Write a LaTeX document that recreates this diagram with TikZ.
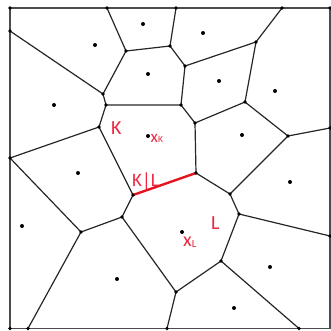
\documentclass[tikz,border=0pt]{standalone}
\usepackage{fontspec}
\setmainfont{Carlito}
\definecolor{lab}{RGB}{236,40,64}
\definecolor{edge}{RGB}{230,20,30}
\begin{document}
\begin{tikzpicture}[x=1pt,y=-1pt,
  seg/.style={line width=1.2pt,black!85},
  frame/.style={line width=1.7pt,black!70},
  redseg/.style={line width=2.4pt,edge},
  vdot/.style={fill=black,draw=none},
  lbl/.style={text=lab,inner sep=0pt,anchor=base west}]
\useasboundingbox (0,0) rectangle (331,330);
% frame corners and boundary vertices
\coordinate (c1) at (10,8);
\coordinate (c2) at (330,8);
\coordinate (c3) at (330,328.5);
\coordinate (c4) at (10,328.5);
\coordinate (B) at (107,8);
\coordinate (I) at (176,8);
\coordinate (Lt) at (282,8);
\coordinate (C) at (10,31);
\coordinate (H) at (10,158);
\coordinate (R) at (330,128);
\coordinate (V) at (330,236);
\coordinate (b1) at (28,328.5);
\coordinate (Y) at (167,328.5);
\coordinate (Z) at (299,328.5);
% inner vertices
\coordinate (D) at (126,51);
\coordinate (E) at (103,94);
\coordinate (F) at (106,105);
\coordinate (G) at (99,127);
\coordinate (J) at (170,46);
\coordinate (Kv) at (185,66);
\coordinate (M) at (256,42);
\coordinate (N) at (181,105);
\coordinate (O) at (195,123);
\coordinate (P) at (245,102);
\coordinate (Q) at (288,136);
\coordinate (S) at (196,173);
\coordinate (T) at (230,194);
\coordinate (U) at (239,214);
\coordinate (W) at (221,261);
\coordinate (X) at (176,292);
\coordinate (R1) at (133,195);
\coordinate (AA) at (122,217);
\coordinate (BB) at (81,232);
% frame
\draw[frame] (c1) -- (c2) -- (c3) -- (c4) -- cycle;
% edges
\draw[seg] (B) -- (D) -- (E) -- (C);
\draw[seg] (E) -- (F) -- (G) -- (H);
\draw[seg] (D) -- (J) -- (I);
\draw[seg] (J) -- (Kv) -- (M) -- (Lt);
\draw[seg] (Kv) -- (N) -- (F);
\draw[seg] (N) -- (O) -- (P) -- (M);
\draw[seg] (P) -- (Q) -- (R);
\draw[seg] (O) -- (S) -- (T) -- (Q);
\draw[seg] (T) -- (U) -- (V);
\draw[seg] (U) -- (W) -- (Z);
\draw[seg] (W) -- (X) -- (Y);
\draw[seg] (X) -- (AA) -- (R1) -- (G);
\draw[seg] (AA) -- (BB) -- (H);
\draw[seg] (BB) -- (b1);
\draw[redseg] (R1) -- (S);
% vertex dots
\foreach \p in {c1,c2,c4,B,I,Lt,C,H,R,V,b1,Y,Z,D,E,F,G,J,Kv,M,N,O,P,Q,S,T,U,W,X,R1,AA,BB}
  \fill[vdot] (\p) circle (1.8);
% sites
\foreach \s in {(143,24),(95,45),(148,74),(54,105),(148,136),(203,33),(219,81),(275,91),(242,135),(78,173),(22,226),(117,279),(290,182),(182,232),(270,267),(234,308)}
  \fill[vdot] \s circle (2);
% labels
\node[lbl,font=\fontsize{20}{20}\selectfont] (lk) at (111,134) {K};
\node[lbl,font=\fontsize{17}{17}\selectfont] (xk) at (150.5,142) {x\raisebox{-0.3pt}{\fontsize{9.5}{9.5}\selectfont K}};
\node[lbl,font=\fontsize{19}{19}\selectfont] (lkl) at (132,186) {K|L};
\node[lbl,font=\fontsize{20}{20}\selectfont] (ll) at (211,229.3) {L};
\node[lbl,font=\fontsize{20}{20}\selectfont] (xl) at (183,246.7) {x\raisebox{-0.5pt}{\fontsize{11}{11}\selectfont L}};
\end{tikzpicture}
\end{document}
